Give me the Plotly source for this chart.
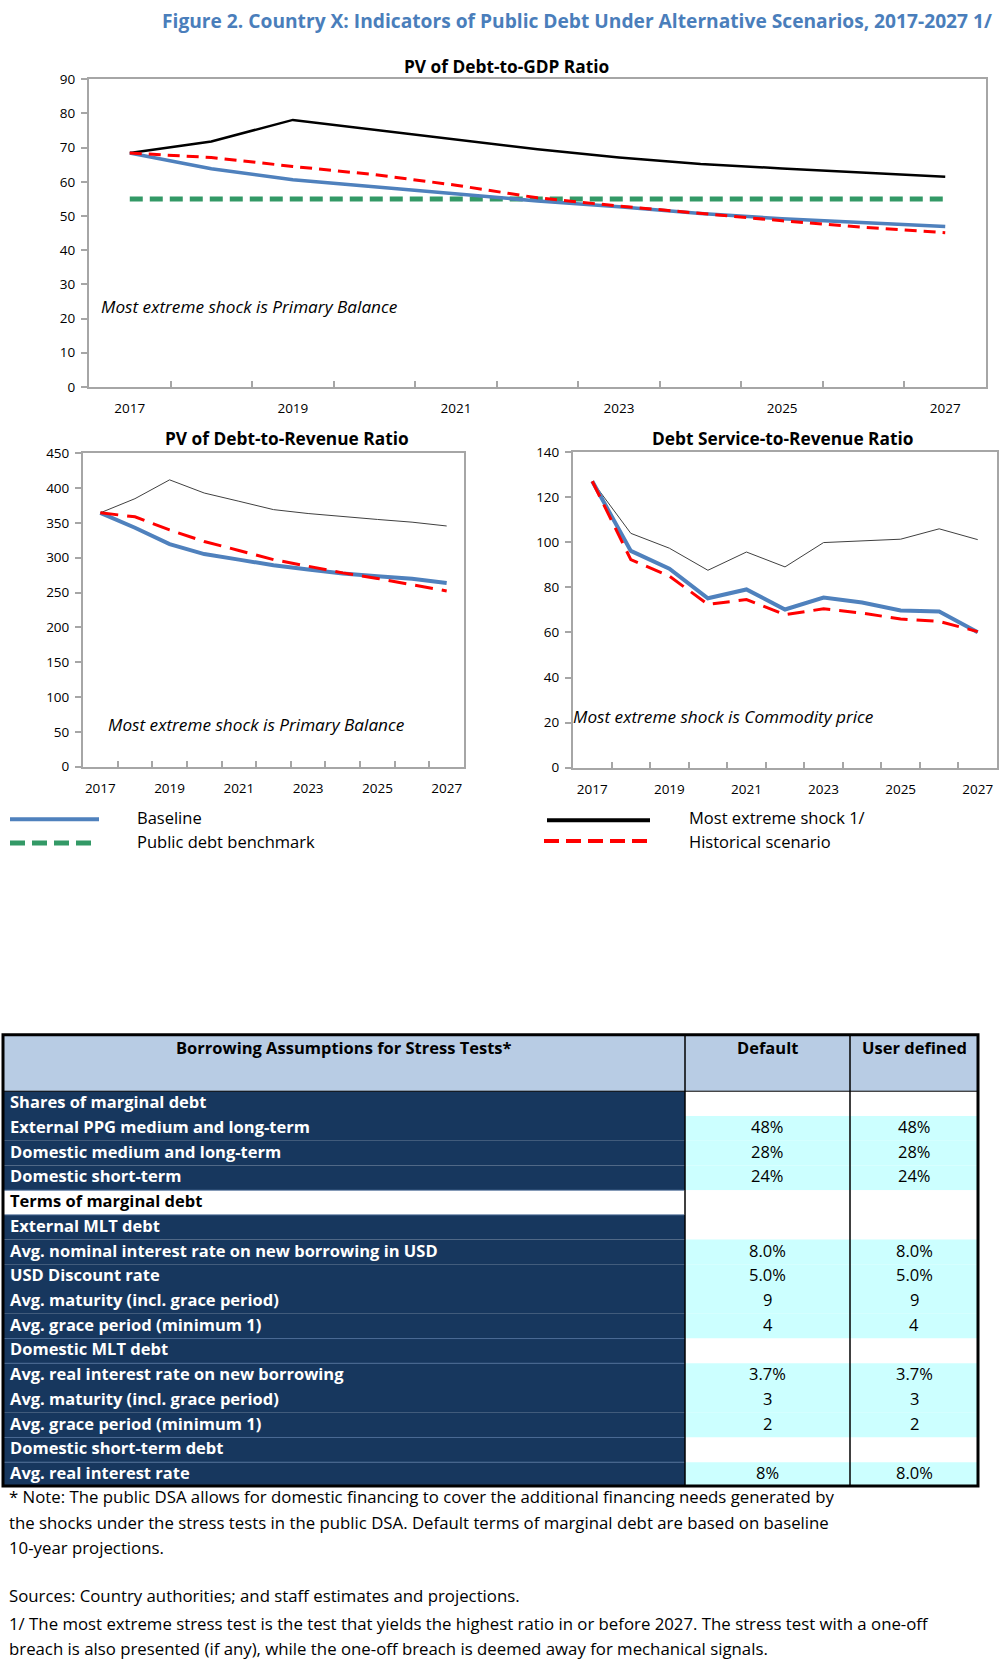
import plotly.graph_objects as go

W, H = 1000, 1673
FONT = "Open Sans"

# ---------------- data ----------------
years = [2017, 2018, 2019, 2020, 2021, 2022, 2023, 2024, 2025, 2026, 2027]
year_labels = [2017, 2019, 2021, 2023, 2025, 2027]

gdp_baseline = [68.4, 63.8, 60.6, 58.6, 56.5, 54.4, 52.7, 50.7, 49.2, 48.0, 46.9]
gdp_extreme = [68.4, 71.8, 78.1, 75.3, 72.4, 69.5, 67.1, 65.2, 63.9, 62.6, 61.5]
gdp_historical = [68.4, 67.1, 64.5, 62.1, 59.0, 55.3, 52.9, 50.7, 48.6, 46.7, 45.1]
gdp_benchmark = [55, 55, 55, 55, 55, 55, 55, 55, 55, 55, 55]

rev_baseline = [364.4, 343.0, 319.4, 305.2, 297.2, 289.2, 283.0, 277.3, 273.5, 269.7, 263.6]
rev_extreme = [364.4, 384.7, 411.7, 392.8, 381.0, 369.0, 363.4, 358.7, 354.9, 351.0, 345.5]
rev_historical = [364.4, 358.7, 339.8, 323.2, 310.4, 297.2, 287.7, 278.2, 270.2, 261.7, 252.3]

ds_baseline = [127.1, 96.2, 88.3, 75.2, 79.1, 70.2, 75.5, 73.3, 69.8, 69.3, 60.1]
ds_extreme = [127.1, 104.0, 97.4, 87.6, 95.7, 89.1, 99.9, 100.8, 101.4, 106.0, 101.2]
ds_historical = [127.1, 92.3, 85.0, 72.5, 74.6, 67.9, 70.5, 68.6, 66.0, 64.9, 60.4]

table_header = ["Borrowing Assumptions for Stress Tests*", "Default", "User defined"]
table_labels = [
    "Shares of marginal debt",
    "External PPG medium and long-term",
    "Domestic medium and long-term",
    "Domestic short-term",
    "Terms of marginal debt",
    "External MLT debt",
    "Avg. nominal interest rate on new borrowing in USD",
    "USD Discount rate",
    "Avg. maturity (incl. grace period)",
    "Avg. grace period (minimum 1)",
    "Domestic MLT debt",
    "Avg. real interest rate on new borrowing",
    "Avg. maturity (incl. grace period)",
    "Avg. grace period (minimum 1)",
    "Domestic short-term debt",
    "Avg. real interest rate",
]
table_default = ["", "48%", "28%", "24%", "", "", "8.0%", "5.0%", "9", "4", "", "3.7%", "3", "2", "", "8%"]
table_user = ["", "48%", "28%", "24%", "", "", "8.0%", "5.0%", "9", "4", "", "3.7%", "3", "2", "", "8.0%"]
section_rows = [0, 4, 5, 10, 14]   # rows without values (white value cells)

notes = [
    "* Note: The public DSA allows for domestic financing to cover the additional financing needs generated by",
    "the shocks under the stress tests in the public DSA. Default terms of marginal debt are based on baseline",
    "10-year projections.",
    "Sources: Country authorities; and staff estimates and projections.",
    "1/ The most extreme stress test is the test that yields the highest ratio in or before 2027. The stress test with a one-off",
    "breach is also presented (if any), while the one-off breach is deemed away for mechanical signals.",
]

# ---------------- styles ----------------
BLUE = "#4F81BD"
TITLE_BLUE = "#4A7EBB"
RED = "#FF0000"
GREEN = "#339966"
NAVY = "#17375E"
HEADER = "#B8CCE4"
CYAN = "#CCFFFF"
AXIS_GRAY = "#A6A6A6"


def px(x):
    return x / W


def py(y):
    return 1 - y / H


fig = go.Figure()

# top chart
fig.add_trace(go.Scatter(x=years, y=gdp_benchmark, mode="lines", xaxis="x", yaxis="y",
                         line=dict(color=GREEN, width=5, dash="13px,7px"), showlegend=False))
fig.add_trace(go.Scatter(x=years, y=gdp_extreme, mode="lines", xaxis="x", yaxis="y",
                         line=dict(color="black", width=2.5), showlegend=False))
fig.add_trace(go.Scatter(x=years, y=gdp_baseline, mode="lines", xaxis="x", yaxis="y",
                         line=dict(color=BLUE, width=3.5), showlegend=False))
fig.add_trace(go.Scatter(x=years, y=gdp_historical, mode="lines", xaxis="x", yaxis="y",
                         line=dict(color=RED, width=3, dash="12px,7px"), showlegend=False))

# bottom-left
fig.add_trace(go.Scatter(x=years, y=rev_extreme, mode="lines", xaxis="x2", yaxis="y2",
                         line=dict(color="#404040", width=1), showlegend=False))
fig.add_trace(go.Scatter(x=years, y=rev_baseline, mode="lines", xaxis="x2", yaxis="y2",
                         line=dict(color=BLUE, width=4), showlegend=False))
fig.add_trace(go.Scatter(x=years, y=rev_historical, mode="lines", xaxis="x2", yaxis="y2",
                         line=dict(color=RED, width=3, dash="18px,9px"), showlegend=False))

# bottom-right
fig.add_trace(go.Scatter(x=years, y=ds_extreme, mode="lines", xaxis="x3", yaxis="y3",
                         line=dict(color="#404040", width=1), showlegend=False))
fig.add_trace(go.Scatter(x=years, y=ds_baseline, mode="lines", xaxis="x3", yaxis="y3",
                         line=dict(color=BLUE, width=4), showlegend=False))
fig.add_trace(go.Scatter(x=years, y=ds_historical, mode="lines", xaxis="x3", yaxis="y3",
                         line=dict(color=RED, width=3, dash="17px,9px"), showlegend=False))

axis_common = dict(showline=True, mirror=True, linecolor=AXIS_GRAY, linewidth=2,
                   showgrid=False, zeroline=False, fixedrange=True,
                   tickfont=dict(family=FONT, size=13.5, color="black"))


def xax(dom, anchor):
    return dict(axis_common, domain=dom, anchor=anchor, range=[2016.5, 2027.5],
                tickmode="array", tickvals=year_labels, ticks="", ticklabelstandoff=8,
                minor=dict(tickmode="array", tickvals=[y + 0.5 for y in years[:-1]],
                           ticks="inside", ticklen=6, tickcolor=AXIS_GRAY, tickwidth=1.5))


def yax(dom, anchor, rng, dt):
    return dict(axis_common, domain=dom, anchor=anchor, range=rng, dtick=dt, tick0=0,
                ticks="outside", ticklen=6, tickcolor=AXIS_GRAY, tickwidth=1.5,
                ticklabelstandoff=3)


annotations = []


def text(x, y, t, size=15, xanchor="left", color="black", bold=False, italic=False):
    s = t
    if bold:
        s = "<b>%s</b>" % s
    if italic:
        s = "<i>%s</i>" % s
    annotations.append(dict(x=px(x), y=py(y), xref="paper", yref="paper", text=s, showarrow=False,
                            xanchor=xanchor, yanchor="middle",
                            font=dict(family=FONT, size=size, color=color)))


# title
text(994, 12, "Figure 2. Country X: Indicators of Public Debt Under Alternative Scenarios, 2017-2027 1/",
     size=19.2, xanchor="right", color=TITLE_BLUE, bold=True)
# chart titles
text(506, 58, "PV of Debt-to-GDP Ratio", size=17.3, xanchor="center", bold=True)
text(287, 434, "PV of Debt-to-Revenue Ratio", size=17.3, xanchor="center", bold=True)
text(782, 434, "Debt Service-to-Revenue Ratio", size=17.3, xanchor="center", bold=True)
# chart notes
text(99, 301, "Most extreme shock is Primary Balance", size=17.2, italic=True)
text(106, 723, "Most extreme shock is Primary Balance", size=17.2, italic=True)
text(571, 715, "Most extreme shock is Commodity price", size=17.2, italic=True)
# legend text
text(135, 817, "Baseline", size=16.5)
text(135, 842, "Public debt benchmark", size=16.5)
text(687, 817, "Most extreme shock 1/", size=16.5)
text(687, 842, "Historical scenario", size=16.5)
# notes
note_y = [1504, 1530, 1555, 1604, 1632, 1657]
for t, yy in zip(notes, note_y):
    text(7, yy, t, size=16.8)

shapes = []


def line(x0, y0, x1, y1, color, width, dash="solid"):
    shapes.append(dict(type="line", xref="paper", yref="paper", x0=px(x0), y0=py(y0), x1=px(x1), y1=py(y1),
                       line=dict(color=color, width=width, dash=dash)))


def rect(x0, y0, x1, y1, fill):
    shapes.append(dict(type="rect", xref="paper", yref="paper", x0=px(x0), y0=py(y1), x1=px(x1), y1=py(y0),
                       line=dict(width=0), fillcolor=fill, layer="below"))


# legend samples
line(10, 819, 99, 819, BLUE, 4)
line(10, 843, 92, 843, GREEN, 5, "15px,7px")
line(547, 820, 650, 820, "black", 4)
line(544, 841, 652, 841, RED, 4, "15px,7px")

# ---------------- table ----------------
TX0, TX1, TX2, TX3 = 3, 685, 850, 978
TY0, THDR, ROWH = 1037, 1094, 25
rect(TX0, TY0, TX3, THDR, HEADER)
text((TX0 + TX1) / 2, 1050, table_header[0], size=16.5, xanchor="center", bold=True)
text((TX1 + TX2) / 2, 1050, table_header[1], size=16.5, xanchor="center", bold=True)
text((TX2 + TX3) / 2, 1050, table_header[2], size=16.5, xanchor="center", bold=True)

for i, lab in enumerate(table_labels):
    y0 = THDR + ROWH * i
    y1 = y0 + ROWH
    terms_row = (i == 4)
    rect(TX0, y0, TX1, y1, "white" if terms_row else NAVY)
    vfill = "white" if i in section_rows else CYAN
    rect(TX1, y0, TX3, y1, vfill)
    yc = y0 + ROWH / 2 - 2
    text(8, yc, lab, size=16.5, bold=True, color="black" if terms_row else "white")
    if table_default[i]:
        text((TX1 + TX2) / 2, yc, table_default[i], size=16.5, xanchor="center")
    if table_user[i]:
        text((TX2 + TX3) / 2, yc, table_user[i], size=16.5, xanchor="center")

for r in [4, 5, 10, 11, 14, 15]:
    yy = THDR + ROWH * r
    line(TX0 + 1, yy, TX1 - 1, yy, "#4A6A94", 1)
line(TX0, THDR, TX3, THDR, "black", 1)
line(TX1, TY0, TX1, 1493, "black", 1.5)
line(TX2, TY0, TX2, 1493, "black", 1.5)
shapes.append(dict(type="rect", xref="paper", yref="paper", x0=px(TX0), y0=py(1493), x1=px(TX3), y1=py(TY0),
                   line=dict(color="black", width=3), fillcolor="rgba(0,0,0,0)"))

fig.update_layout(
    width=W, height=H, margin=dict(l=0, r=0, t=0, b=0),
    paper_bgcolor="white", plot_bgcolor="white", showlegend=False,
    font=dict(family=FONT, color="black"),
    xaxis=xax([px(89), px(986)], "y"),
    yaxis=yax([py(382), py(71)], "x", [0, 90], 10),
    xaxis2=xax([px(83), px(464)], "y2"),
    yaxis2=yax([py(766), py(449)], "x2", [0, 450], 50),
    xaxis3=xax([px(573), px(997)], "y3"),
    yaxis3=yax([py(767), py(448)], "x3", [0, 140], 20),
    annotations=annotations,
    shapes=shapes,
)

post = (
    "document.documentElement.style.margin='0';"
    "document.body.style.margin='0';document.body.style.padding='0';"
    "var gd=document.getElementById('{plot_id}');"
    "if(gd){gd.style.position='absolute';gd.style.left='0px';gd.style.top='0px';}"
)
fig.write_html("out.html", config={"displayModeBar": False}, post_script=post)
